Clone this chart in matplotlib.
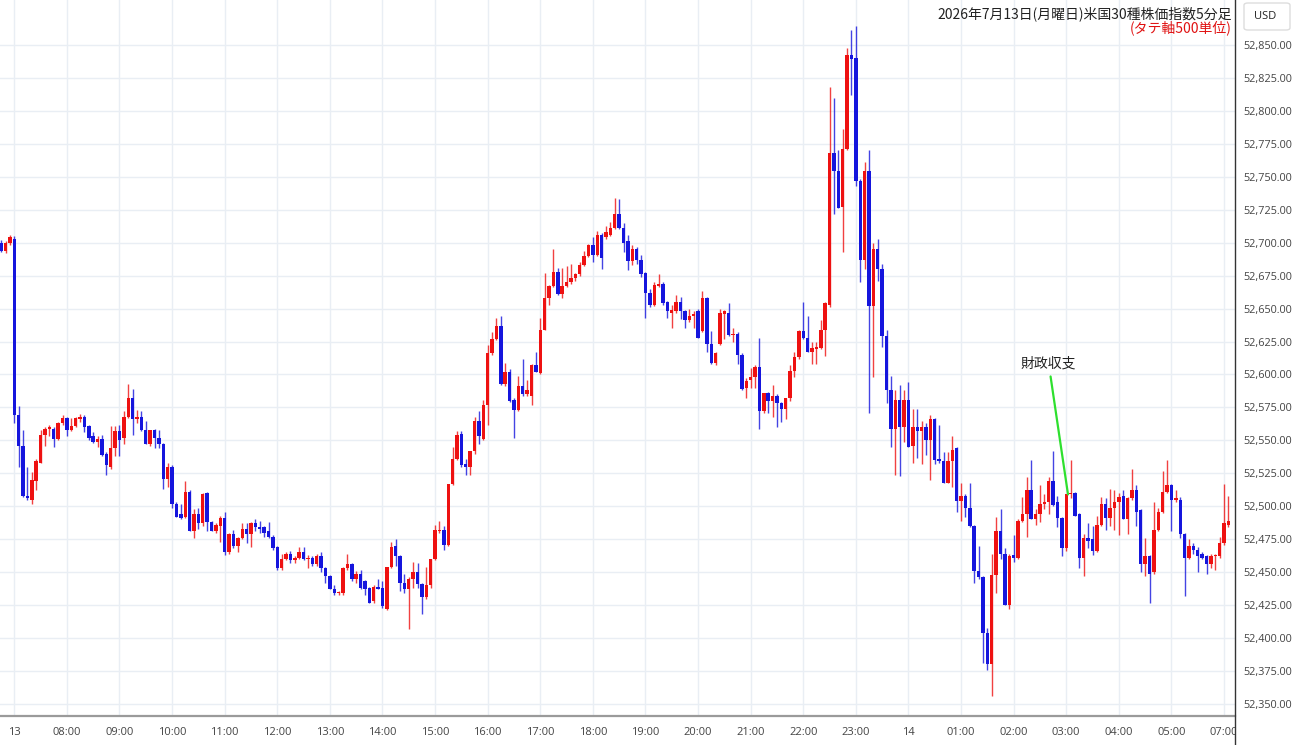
import matplotlib
matplotlib.use("Agg")
import matplotlib.pyplot as plt
import numpy as np
from matplotlib.patches import FancyBboxPatch
from matplotlib.lines import Line2D
from matplotlib.transforms import Bbox, TransformedBbox

# ── 5-minute bars, index 0 = 07:00 on the 13th (bar index axis, 06:00 break skipped) ──
first_index = -3
opens = [
    52700, 52694, 52700,
    52703, 52569, 52546, 52508, 52505, 52519, 52533, 52554, 52559, 52559, 52551, 52563,
    52567, 52558, 52561, 52566, 52568, 52561, 52553, 52549, 52551, 52540, 52530, 52544,
    52557, 52552, 52568, 52582, 52566, 52568, 52558, 52547, 52558, 52552, 52547, 52521,
    52530, 52502, 52494, 52492, 52511, 52481, 52494, 52487, 52510, 52488, 52481, 52485,
    52491, 52465, 52479, 52470, 52476, 52483, 52479, 52487, 52484, 52484, 52481, 52477,
    52469, 52453, 52460, 52464, 52459, 52461, 52465, 52460, 52461, 52456, 52462, 52453,
    52447, 52437, 52434, 52434, 52453, 52456, 52445, 52449, 52443, 52438, 52428, 52439,
    52438, 52422, 52454, 52470, 52462, 52442, 52437, 52445, 52450, 52441, 52431, 52440,
    52460, 52481, 52482, 52471, 52517, 52536, 52555, 52532, 52530, 52542, 52565, 52551,
    52577, 52616, 52627, 52637, 52593, 52602, 52581, 52573, 52591, 52585, 52584, 52607,
    52601, 52634, 52658, 52667, 52678, 52661, 52667, 52670, 52673, 52676, 52683, 52690,
    52698, 52691, 52706, 52704, 52706, 52711, 52722, 52711, 52701, 52686, 52695, 52687,
    52677, 52662, 52653, 52667, 52669, 52655, 52647, 52648, 52655, 52648, 52641, 52644,
    52648, 52633, 52658, 52623, 52609, 52623, 52646, 52647, 52630, 52631, 52615, 52590,
    52596, 52598, 52606, 52572, 52586, 52580, 52584, 52578, 52574, 52582, 52603, 52613,
    52633, 52628, 52617, 52619, 52620, 52634, 52653, 52768, 52754, 52727, 52771, 52842,
    52840, 52747, 52687, 52754, 52652, 52695, 52680, 52629, 52588, 52559, 52581, 52560,
    52581, 52546, 52560, 52557, 52560, 52550, 52566, 52536, 52534, 52518, 52534, 52544,
    52504, 52508, 52499, 52485, 52451, 52446, 52404, 52380, 52448, 52481, 52464, 52425,
    52463, 52461, 52489, 52494, 52512, 52490, 52494, 52502, 52503, 52519, 52503, 52491,
    52468, 52509, 52510, 52494, 52461, 52476, 52475, 52466, 52486, 52502, 52491, 52499,
    52503, 52508, 52490, 52506, 52512, 52497, 52456, 52462, 52450, 52482, 52496, 52511,
    52516, 52505, 52505, 52479, 52461, 52470, 52467, 52464, 52462, 52456, 52462, 52462,
    52472, 52486,
]
highs = [
    52702, 52701, 52706,
    52705, 52576, 52558, 52530, 52526, 52536, 52558, 52560, 52562, 52560, 52564, 52569,
    52568, 52567, 52568, 52570, 52569, 52562, 52556, 52553, 52554, 52541, 52561, 52561,
    52562, 52572, 52593, 52589, 52573, 52572, 52565, 52558, 52559, 52558, 52548, 52533,
    52531, 52503, 52502, 52519, 52512, 52498, 52499, 52510, 52511, 52489, 52487, 52493,
    52496, 52480, 52482, 52477, 52487, 52487, 52488, 52490, 52489, 52485, 52488, 52478,
    52470, 52464, 52465, 52466, 52462, 52469, 52469, 52463, 52462, 52464, 52465, 52454,
    52448, 52440, 52436, 52454, 52464, 52457, 52451, 52452, 52444, 52439, 52440, 52445,
    52443, 52454, 52473, 52475, 52463, 52449, 52446, 52458, 52457, 52442, 52454, 52460,
    52486, 52489, 52485, 52517, 52545, 52557, 52557, 52536, 52542, 52568, 52572, 52581,
    52622, 52632, 52643, 52644, 52609, 52604, 52582, 52599, 52612, 52596, 52608, 52617,
    52643, 52677, 52668, 52695, 52681, 52681, 52682, 52684, 52677, 52685, 52694, 52699,
    52704, 52709, 52707, 52713, 52716, 52734, 52733, 52715, 52706, 52698, 52697, 52691,
    52678, 52665, 52670, 52676, 52670, 52656, 52653, 52660, 52659, 52649, 52650, 52648,
    52650, 52663, 52659, 52633, 52617, 52650, 52649, 52654, 52635, 52632, 52616, 52597,
    52605, 52607, 52628, 52586, 52587, 52592, 52585, 52579, 52582, 52607, 52617, 52634,
    52655, 52644, 52625, 52625, 52641, 52655, 52818, 52810, 52770, 52786, 52848, 52861,
    52864, 52748, 52761, 52770, 52700, 52703, 52684, 52634, 52599, 52588, 52592, 52588,
    52594, 52574, 52574, 52565, 52563, 52569, 52567, 52562, 52541, 52541, 52553, 52545,
    52518, 52509, 52518, 52486, 52470, 52447, 52408, 52464, 52492, 52498, 52468, 52464,
    52478, 52490, 52507, 52522, 52535, 52498, 52516, 52509, 52522, 52542, 52508, 52492,
    52509, 52535, 52511, 52495, 52479, 52487, 52485, 52493, 52507, 52506, 52513, 52512,
    52510, 52512, 52507, 52528, 52516, 52498, 52476, 52463, 52503, 52499, 52527, 52535,
    52517, 52512, 52507, 52480, 52475, 52472, 52469, 52465, 52463, 52464, 52464, 52477,
    52517, 52508,
]
lows = [
    52693, 52692, 52698,
    52563, 52530, 52507, 52505, 52502, 52512, 52533, 52546, 52553, 52545, 52550, 52562,
    52553, 52557, 52560, 52564, 52556, 52550, 52548, 52545, 52538, 52524, 52528, 52538,
    52538, 52547, 52567, 52554, 52563, 52557, 52547, 52546, 52544, 52544, 52513, 52515,
    52499, 52492, 52490, 52491, 52481, 52476, 52483, 52485, 52481, 52481, 52480, 52473,
    52463, 52464, 52468, 52465, 52475, 52472, 52469, 52481, 52480, 52477, 52476, 52467,
    52452, 52452, 52459, 52457, 52457, 52460, 52459, 52453, 52455, 52455, 52450, 52442,
    52437, 52433, 52433, 52433, 52452, 52443, 52442, 52437, 52433, 52427, 52427, 52437,
    52423, 52421, 52453, 52455, 52436, 52434, 52407, 52438, 52438, 52418, 52430, 52438,
    52459, 52480, 52467, 52470, 52516, 52535, 52530, 52524, 52524, 52540, 52547, 52550,
    52562, 52615, 52626, 52592, 52591, 52579, 52552, 52572, 52584, 52584, 52577, 52602,
    52600, 52634, 52653, 52666, 52660, 52658, 52666, 52669, 52671, 52675, 52682, 52689,
    52685, 52690, 52680, 52703, 52705, 52710, 52710, 52693, 52679, 52683, 52684, 52674,
    52643, 52651, 52652, 52666, 52653, 52643, 52635, 52647, 52642, 52635, 52640, 52635,
    52628, 52632, 52617, 52608, 52607, 52622, 52627, 52629, 52625, 52608, 52588, 52582,
    52590, 52590, 52559, 52571, 52571, 52568, 52560, 52564, 52566, 52580, 52598, 52612,
    52627, 52617, 52608, 52608, 52619, 52614, 52651, 52722, 52726, 52693, 52770, 52812,
    52743, 52670, 52680, 52571, 52598, 52671, 52621, 52578, 52545, 52524, 52523, 52549,
    52545, 52533, 52537, 52532, 52539, 52520, 52532, 52533, 52518, 52518, 52515, 52496,
    52489, 52492, 52484, 52442, 52445, 52381, 52376, 52356, 52434, 52460, 52425, 52422,
    52458, 52460, 52488, 52477, 52490, 52486, 52488, 52498, 52494, 52500, 52484, 52462,
    52466, 52506, 52493, 52453, 52447, 52468, 52463, 52465, 52485, 52482, 52485, 52482,
    52478, 52490, 52479, 52505, 52485, 52450, 52447, 52427, 52449, 52481, 52495, 52510,
    52481, 52503, 52476, 52432, 52460, 52464, 52450, 52460, 52449, 52453, 52452, 52461,
    52471, 52484,
]
closes = [
    52694, 52700, 52704,
    52569, 52546, 52508, 52506, 52520, 52534, 52554, 52559, 52560, 52551, 52563, 52567,
    52558, 52561, 52567, 52568, 52560, 52552, 52549, 52551, 52539, 52531, 52544, 52557,
    52550, 52568, 52582, 52566, 52568, 52558, 52547, 52558, 52552, 52547, 52521, 52530,
    52502, 52492, 52491, 52511, 52481, 52494, 52487, 52509, 52488, 52481, 52486, 52491,
    52465, 52479, 52470, 52476, 52483, 52479, 52487, 52484, 52483, 52480, 52477, 52468,
    52453, 52460, 52464, 52459, 52461, 52465, 52460, 52461, 52456, 52462, 52453, 52447,
    52437, 52434, 52435, 52453, 52456, 52445, 52449, 52438, 52437, 52427, 52439, 52437,
    52424, 52454, 52469, 52462, 52442, 52437, 52445, 52450, 52441, 52431, 52440, 52460,
    52482, 52482, 52471, 52517, 52536, 52554, 52531, 52530, 52542, 52565, 52553, 52577,
    52616, 52627, 52637, 52593, 52602, 52580, 52573, 52591, 52585, 52588, 52607, 52602,
    52634, 52658, 52667, 52678, 52661, 52667, 52670, 52673, 52676, 52683, 52690, 52698,
    52691, 52706, 52688, 52708, 52711, 52722, 52711, 52700, 52686, 52695, 52687, 52676,
    52662, 52653, 52668, 52669, 52654, 52648, 52649, 52655, 52648, 52641, 52644, 52646,
    52628, 52658, 52623, 52609, 52616, 52647, 52648, 52630, 52631, 52615, 52589, 52595,
    52598, 52606, 52572, 52586, 52580, 52584, 52578, 52574, 52582, 52603, 52613, 52633,
    52628, 52617, 52620, 52621, 52634, 52654, 52768, 52754, 52726, 52771, 52842, 52839,
    52747, 52687, 52754, 52652, 52695, 52680, 52629, 52588, 52559, 52581, 52560, 52581,
    52545, 52560, 52557, 52560, 52550, 52566, 52535, 52534, 52518, 52534, 52543, 52504,
    52508, 52499, 52485, 52451, 52446, 52404, 52380, 52448, 52481, 52464, 52425, 52462,
    52461, 52489, 52494, 52512, 52490, 52494, 52502, 52503, 52519, 52501, 52491, 52468,
    52509, 52510, 52493, 52461, 52476, 52474, 52466, 52486, 52502, 52491, 52499, 52503,
    52507, 52490, 52506, 52512, 52496, 52456, 52462, 52449, 52482, 52496, 52511, 52516,
    52505, 52506, 52479, 52461, 52470, 52467, 52462, 52461, 52456, 52462, 52463, 52472,
    52487, 52489,
]

# hour ticks every 12 bars
tick_labels = ["13", "08:00", "09:00", "10:00", "11:00", "12:00", "13:00", "14:00",
               "15:00", "16:00", "17:00", "18:00", "19:00", "20:00", "21:00", "22:00",
               "23:00", "14", "01:00", "02:00", "03:00", "04:00", "05:00", "07:00"]
price_ticks = list(range(52350, 52851, 25))

title_text = "2026年7月13日(月曜日)米国30種株価指数5分足"
sub_text = "(タテ軸500単位)"
note_text = "財政収支"
note_bar = 240.4
note_price = 52509
note_text_pos = (236.0, 52608)

UP = "#ee1111"
DOWN = "#1515dd"
GRID = "#e9eef4"
CJK = ["Noto Sans CJK JP", "DejaVu Sans"]

# ── figure ───────────────────────────────────────────────────────────────────
fig = plt.figure(figsize=(13, 7.45), dpi=100)
fig.patch.set_facecolor("white")
ax = fig.add_axes([0, 29 / 745, 1235 / 1300, 716 / 745])

o = np.array(opens, float)
h = np.array(highs, float)
l = np.array(lows, float)
c = np.array(closes, float)
x = np.arange(first_index, first_index + len(o))
colors = np.where(c >= o, UP, DOWN)

ax.vlines(x, l, h, colors=colors, linewidth=1.0, alpha=0.8, zorder=2)
bottoms = np.minimum(o, c)
heights = np.maximum(np.abs(c - o), 0.9)
ax.bar(x, heights, bottom=bottoms, width=0.78, color=colors, linewidth=0, zorder=3)

ax.set_xlim(-3.26, 278.5)
ax.set_ylim(52340.9, 52884.1)

ax.set_xticks(np.arange(0, 12 * len(tick_labels), 12))
ax.set_xticklabels(tick_labels, fontsize=8, color="#444444", family="Open Sans")
ax.set_yticks(price_ticks)
ax.set_yticklabels([f"{p:,.2f}" for p in price_ticks], fontsize=7.8,
                   color="#444444", family="Open Sans")
ax.yaxis.tick_right()
ax.tick_params(axis="y", length=0, pad=6)
ax.tick_params(axis="x", length=0, pad=8)
ax.grid(True, color=GRID, linewidth=1.0, zorder=0)
ax.set_axisbelow(True)

for side in ["top", "left", "right"]:
    ax.spines[side].set_visible(False)
ax.spines["bottom"].set_color("#9a9a9a")
ax.spines["bottom"].set_linewidth(1.6)

# clip x labels at the price-axis separator (last one shows cut like the source)
clip = TransformedBbox(Bbox([[0, 0], [1235 / 1300, 1]]), fig.transFigure)
for tick in ax.xaxis.get_major_ticks():
    tick.label1.set_clip_on(True)
    tick.label1.set_clip_box(clip)

# separator between plot and price axis
fig.add_artist(Line2D([1235 / 1300, 1235 / 1300], [0, 1], transform=fig.transFigure,
                      color="#333333", linewidth=1.0))

# titles
fig.text(1232 / 1300, 1 - 14 / 745, title_text, ha="right", va="center",
         fontsize=10, color="#222222", family=CJK)
fig.text(1232 / 1300, 1 - 27.5 / 745, sub_text, ha="right", va="center",
         fontsize=10, color="#e01010", family=CJK)

# USD box
fig.add_artist(FancyBboxPatch((1244 / 1300, 1 - 30 / 745), 46 / 1300, 27 / 745,
                              boxstyle="round,pad=0,rounding_size=0.003",
                              transform=fig.transFigure, facecolor="white",
                              edgecolor="#dddddd", linewidth=1.0))
fig.text(1254 / 1300, 1 - 16.5 / 745, "USD", ha="left", va="center",
         fontsize=8, color="#222222", family="Open Sans")

# annotation
ax.annotate(note_text, xy=(note_bar, note_price), xytext=note_text_pos,
            textcoords="data", ha="center", va="center", fontsize=10,
            color="#222222", family=CJK, zorder=5,
            arrowprops=dict(arrowstyle="-", color="#2ee02e", lw=1.6,
                            shrinkA=2, shrinkB=0))

plt.savefig("out.png", dpi=100, facecolor="white")
